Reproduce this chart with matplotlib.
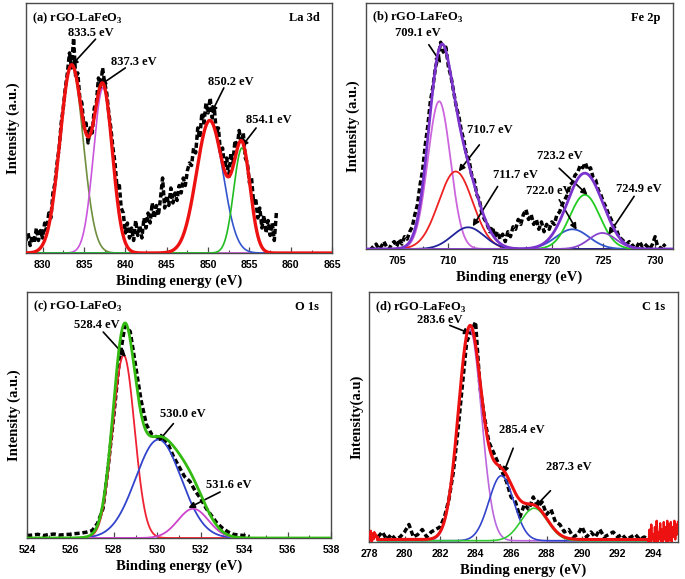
import numpy as np
import matplotlib
matplotlib.use("Agg")
import matplotlib.pyplot as plt

plt.rcParams["mathtext.fontset"] = "custom"
plt.rcParams["mathtext.rm"] = "Liberation Serif"
plt.rcParams["mathtext.bf"] = "Liberation Serif:bold"

# ---------------- Panel (a) La 3d ----------------
a_xlim = (828, 865)
a_ticks = [830, 835, 840, 845, 850, 855, 860, 865]
a_peak_centers = [833.5, 837.3, 850.2, 854.1]
a_peak_heights = [0.75, 0.66, 0.53, 0.42]
a_peak_widths = [1.4, 1.15, 1.6, 1.0]
a_peak_colors = ["#6f8f3f", "#cc55dd", "#3355cc", "#22bb22"]
a_raw_start, a_raw_end = 828.0, 858.25
a_raw = [0.05, 0.08, 0.03, 0.07, 0.04, 0.10, 0.05, 0.09, 0.06, 0.12, 0.09, 0.16, 0.14, 0.24, 0.28, 0.36,
         0.42, 0.52, 0.58, 0.66, 0.72, 0.80, 0.74, 0.86, 0.70, 0.72, 0.62, 0.60, 0.50, 0.52, 0.44, 0.50,
         0.48, 0.58, 0.60, 0.70, 0.66, 0.74, 0.68, 0.64, 0.56, 0.50, 0.42, 0.36, 0.26, 0.28, 0.18, 0.16,
         0.08, 0.12, 0.06, 0.10, 0.05, 0.13, 0.07, 0.11, 0.06, 0.14, 0.10, 0.16, 0.12, 0.20, 0.14, 0.19,
         0.15, 0.22, 0.30, 0.18, 0.23, 0.19, 0.26, 0.20, 0.24, 0.21, 0.27, 0.24, 0.30, 0.27, 0.33, 0.36,
         0.35, 0.42, 0.40, 0.50, 0.46, 0.56, 0.52, 0.60, 0.56, 0.62, 0.54, 0.58, 0.48, 0.50, 0.40, 0.42,
         0.34, 0.38, 0.30, 0.40, 0.36, 0.45, 0.42, 0.49, 0.44, 0.48, 0.38, 0.36, 0.28, 0.30, 0.20, 0.22,
         0.14, 0.18, 0.10, 0.15, 0.08, 0.13, 0.07, 0.12, 0.05, 0.16]
a_labels = ["833.5 eV", "837.3 eV", "850.2 eV", "854.1 eV"]
a_text_xy = [(835.8, 0.88), (841.0, 0.765), (852.7, 0.685), (857.35, 0.53)]
a_arrow_from = [(836.4, 0.855), (840.0, 0.74), (851.9, 0.66), (855.8, 0.50)]
a_arrow_to = [(833.5, 0.75), (836.9, 0.67), (850.4, 0.56), (854.05, 0.425)]

# ---------------- Panel (b) Fe 2p ----------------
b_xlim = (702, 731.7)
b_ticks = [705, 710, 715, 720, 725, 730]
b_peak_centers = [709.1, 710.7, 711.9, 722.0, 723.2, 724.9]
b_peak_heights = [0.60, 0.315, 0.088, 0.08, 0.22, 0.065]
b_peak_widths = [1.1, 1.65, 1.55, 1.6, 1.45, 1.3]
b_peak_colors = ["#cc66dd", "#ee2222", "#22229a", "#3355cc", "#22cc22", "#8844cc"]
b_env_color = "#7a33cc"
b_raw_start, b_raw_end = 702.5, 731.0
b_raw = [0.01, 0.00, 0.02, 0.00, 0.01, 0.03, 0.01, 0.00, 0.02, 0.03, 0.01, 0.04, 0.02, 0.05, 0.04, 0.07,
         0.09, 0.14, 0.18, 0.26, 0.32, 0.42, 0.50, 0.60, 0.66, 0.74, 0.78, 0.84, 0.80, 0.82, 0.74, 0.70,
         0.64, 0.58, 0.54, 0.48, 0.44, 0.38, 0.36, 0.30, 0.28, 0.22, 0.20, 0.14, 0.12, 0.10, 0.07, 0.09,
         0.05, 0.07, 0.04, 0.06, 0.03, 0.07, 0.05, 0.09, 0.08, 0.12, 0.10, 0.14, 0.16, 0.12, 0.14, 0.10,
         0.12, 0.08, 0.11, 0.07, 0.10, 0.08, 0.11, 0.10, 0.14, 0.15, 0.18, 0.20, 0.22, 0.26, 0.27, 0.30,
         0.31, 0.34, 0.33, 0.35, 0.32, 0.33, 0.29, 0.28, 0.24, 0.22, 0.19, 0.17, 0.14, 0.12, 0.09, 0.08,
         0.05, 0.04, 0.03, 0.02, 0.03, 0.01, 0.02, 0.01, 0.03, 0.01, 0.02, 0.01, 0.00, 0.02, 0.05, 0.01,
         0.00, 0.02, 0.01]
b_labels = ["709.1 eV", "710.7 eV", "711.7 eV", "723.2 eV", "722.0 eV", "724.9 eV"]
b_text_xy = [(707.0, 0.876), (713.96, 0.484), (716.47, 0.30), (720.79, 0.376), (719.72, 0.234), (728.45, 0.243)]
b_arrow_from = [(708.1, 0.83), (712.99, 0.423), (714.76, 0.254), (720.72, 0.328), (720.72, 0.20), (727.97, 0.214)]
b_arrow_to = [(709.3, 0.755), (710.99, 0.315), (712.35, 0.092), (723.46, 0.22), (722.4, 0.078), (725.49, 0.058)]

# ---------------- Panel (c) O 1s ----------------
c_xlim = (524, 538)
c_ticks = [524, 526, 528, 530, 532, 534, 536, 538]
c_peak_centers = [528.45, 530.05, 531.65]
c_peak_heights = [0.743, 0.40, 0.119]
c_peak_widths = [0.5, 1.05, 0.7]
c_peak_colors = ["#ee2233", "#3344cc", "#cc44cc"]
c_env_color = "#33bb11"
c_raw_start, c_raw_end = 524.0, 534.25
c_raw = [0.010, 0.012, 0.015, 0.010, 0.014, 0.016, 0.012, 0.014, 0.015, 0.018, 0.020, 0.024, 0.030, 0.060,
         0.120, 0.300, 0.500, 0.720, 0.860, 0.840, 0.700, 0.560, 0.460, 0.420, 0.410, 0.400, 0.380, 0.330,
         0.290, 0.250, 0.230, 0.190, 0.160, 0.120, 0.090, 0.060, 0.040, 0.025, 0.015, 0.012, 0.010, 0.006]
c_labels = ["528.4 eV", "530.0 eV", "531.6 eV"]
c_text_xy = [(527.2, 0.864), (531.18, 0.505), (533.29, 0.214)]
c_arrow_from = [(527.51, 0.837), (530.74, 0.465), (532.89, 0.187)]
c_arrow_to = [(528.55, 0.736), (530.05, 0.393), (531.43, 0.122)]

# ---------------- Panel (d) C 1s ----------------
d_xlim = (278, 295.4)
d_ticks = [278, 280, 282, 284, 286, 288, 290, 292, 294]
d_peak_centers = [283.68, 285.45, 287.3]
d_peak_heights = [0.845, 0.26, 0.13]
d_peak_widths = [0.65, 0.7, 0.75]
d_peak_colors = ["#bb66dd", "#3344cc", "#33cc33"]
d_baseline = 0.01
d_fit_range = (278.5, 293.7)
d_raw_start, d_raw_end = 278.5, 293.75
d_raw = [0.02, 0.04, 0.01, 0.03, 0.01, 0.02, 0.04, 0.07, 0.02, 0.03, 0.05, 0.02, 0.04, 0.05, 0.06, 0.10,
         0.17, 0.28, 0.44, 0.62, 0.80, 0.84, 0.88, 0.62, 0.50, 0.40, 0.36, 0.32, 0.28, 0.24, 0.18, 0.16,
         0.10, 0.15, 0.13, 0.18, 0.14, 0.16, 0.11, 0.13, 0.08, 0.07, 0.04, 0.05, 0.02, 0.03, 0.06, 0.02,
         0.04, 0.02, 0.05, 0.02, 0.03, 0.04, 0.02, 0.03, 0.01, 0.02, 0.03, 0.01, 0.02, 0.01]
d_red_left_start, d_red_left_end = 278.0, 278.5
d_red_left = [0.03, 0.01, 0.045, 0.00, 0.035, 0.01, 0.04, 0.02, 0.03, 0.01, 0.02]
d_red_right_start, d_red_right_end = 293.7, 295.4
d_red_right = [0.01, 0.00, 0.05, 0.00, 0.07, 0.01, 0.03, 0.00, 0.06, 0.00, 0.085, 0.00, 0.04, 0.01,
               0.075, 0.00, 0.05, 0.00, 0.08, 0.01, 0.06, 0.00, 0.085, 0.00, 0.07, 0.01, 0.08, 0.00,
               0.06, 0.02, 0.085, 0.01, 0.07, 0.03, 0.08]
d_labels = ["283.6 eV", "285.4 eV", "287.3 eV"]
d_text_xy = [(282.0, 0.887), (286.63, 0.447), (289.26, 0.30)]
d_arrow_from = [(282.55, 0.866), (286.12, 0.375), (288.22, 0.205)]
d_arrow_to = [(283.72, 0.833), (285.56, 0.273), (287.34, 0.14)]

# ---------------- styling ----------------
SERIF = "Liberation Serif"
SANS = "Liberation Sans"
FRAME = "#4a4a4a"


def gauss(x, c, h, w):
    return h * np.exp(-(x - c) ** 2 / (2 * w ** 2))


def setup(ax, xlim, ticks, ylabel, tl, tr):
    ax.set_xlim(*xlim)
    ax.set_ylim(0, 1)
    ax.set_xticks(ticks)
    ax.set_xticklabels([str(t) for t in ticks], fontfamily=SANS, fontweight="bold", fontsize=7.6)
    minor = [(ticks[i] + ticks[i + 1]) / 2 for i in range(len(ticks) - 1)]
    ax.set_xticks(minor, minor=True)
    ax.set_yticks([])
    ax.tick_params(axis="x", which="major", direction="in", length=4, width=0.9, color=FRAME, pad=5)
    ax.tick_params(axis="x", which="minor", direction="in", length=2.5, width=0.8, color=FRAME)
    for s in ax.spines.values():
        s.set_color(FRAME)
        s.set_linewidth(1.0)
    ax.set_xlabel("Binding energy (eV)", fontfamily=SERIF, fontweight="bold", fontsize=10.5, labelpad=3)
    ax.set_ylabel(ylabel, fontfamily=SERIF, fontweight="bold", fontsize=10.5, labelpad=4)
    ax.text(0.02, 0.94, tl, transform=ax.transAxes, fontfamily=SERIF, fontweight="bold", fontsize=9,
            ha="left", va="center")
    ax.text(0.96, 0.94, tr, transform=ax.transAxes, fontfamily=SERIF, fontweight="bold", fontsize=9,
            ha="right", va="center")


def annotate(ax, labels, txy, afrom, ato):
    for lab, t, f, to in zip(labels, txy, afrom, ato):
        ax.text(t[0], t[1], lab, fontfamily=SERIF, fontweight="bold", fontsize=9, ha="center", va="center")
        ax.annotate("", xy=to, xytext=f,
                    arrowprops=dict(arrowstyle="-|>", color="black", lw=1.2, mutation_scale=9,
                                    shrinkA=0, shrinkB=0))


def raw_line(ax, start, end, vals):
    x = np.linspace(start, end, len(vals))
    ax.plot(x, vals, color="black", lw=2.5, ls=(0, (1.5, 0.8)), zorder=2)


fig = plt.figure(figsize=(6.85, 5.79), dpi=100)
ax_a = fig.add_axes([0.038, 0.563, 0.447, 0.432])
ax_b = fig.add_axes([0.534, 0.570, 0.448, 0.425])
ax_c = fig.add_axes([0.0394, 0.0708, 0.444, 0.425])
ax_d = fig.add_axes([0.5387, 0.0639, 0.451, 0.432])

# (a)
xa = np.linspace(a_xlim[0], a_xlim[1], 1500)
raw_line(ax_a, a_raw_start, a_raw_end, a_raw)
env = np.zeros_like(xa)
for c, h, w, col in zip(a_peak_centers, a_peak_heights, a_peak_widths, a_peak_colors):
    g = gauss(xa, c, h, w)
    env += g
    ax_a.plot(xa, g, color=col, lw=1.2, zorder=3)
ax_a.plot(xa, env, color="#ee1111", lw=2.4, zorder=4)
setup(ax_a, a_xlim, a_ticks, "Intensity (a.u.)", "(a) rGO-LaFeO$_\\mathbf{3}$", "La 3d")
annotate(ax_a, a_labels, a_text_xy, a_arrow_from, a_arrow_to)

# (b)
xb = np.linspace(b_xlim[0], b_xlim[1], 1500)
raw_line(ax_b, b_raw_start, b_raw_end, b_raw)
env = np.zeros_like(xb)
for c, h, w, col in zip(b_peak_centers, b_peak_heights, b_peak_widths, b_peak_colors):
    g = gauss(xb, c, h, w)
    env += g
    ax_b.plot(xb, g, color=col, lw=1.3, zorder=3)
ax_b.plot(xb, env, color=b_env_color, lw=2.0, zorder=4)
setup(ax_b, b_xlim, b_ticks, "Intensity (a.u.)", "(b) rGO-LaFeO$_\\mathbf{3}$", "Fe 2p")
annotate(ax_b, b_labels, b_text_xy, b_arrow_from, b_arrow_to)

# (c)
xc = np.linspace(c_xlim[0], c_xlim[1], 1500)
raw_line(ax_c, c_raw_start, c_raw_end, c_raw)
env = np.zeros_like(xc)
for c, h, w, col in zip(c_peak_centers, c_peak_heights, c_peak_widths, c_peak_colors):
    g = gauss(xc, c, h, w)
    env += g
    ax_c.plot(xc, g, color=col, lw=1.3, zorder=3)
ax_c.plot(xc, env, color=c_env_color, lw=2.0, zorder=4)
setup(ax_c, c_xlim, c_ticks, "Intensity (a.u.)", "(c) rGO-LaFeO$_\\mathbf{3}$", "O 1s")
annotate(ax_c, c_labels, c_text_xy, c_arrow_from, c_arrow_to)

# (d)
xd = np.linspace(d_fit_range[0], d_fit_range[1], 1500)
raw_line(ax_d, d_raw_start, d_raw_end, d_raw)
env = np.full_like(xd, d_baseline)
for c, h, w, col in zip(d_peak_centers, d_peak_heights, d_peak_widths, d_peak_colors):
    g = gauss(xd, c, h, w)
    env += g
    ax_d.plot(xd, g + d_baseline * 0.5, color=col, lw=1.2, zorder=3)
ax_d.plot(xd, env, color="#ee1111", lw=2.2, zorder=4)
ax_d.plot(np.linspace(d_red_left_start, d_red_left_end, len(d_red_left)), d_red_left,
          color="#ee1111", lw=1.6, zorder=4)
ax_d.plot(np.linspace(d_red_right_start, d_red_right_end, len(d_red_right)), d_red_right,
          color="#ee1111", lw=1.6, zorder=4)
setup(ax_d, d_xlim, d_ticks, "Intensity(a.u)", "(d) rGO-LaFeO$_\\mathbf{3}$", "C 1s")
annotate(ax_d, d_labels, d_text_xy, d_arrow_from, d_arrow_to)

fig.savefig("out.png", dpi=100)
